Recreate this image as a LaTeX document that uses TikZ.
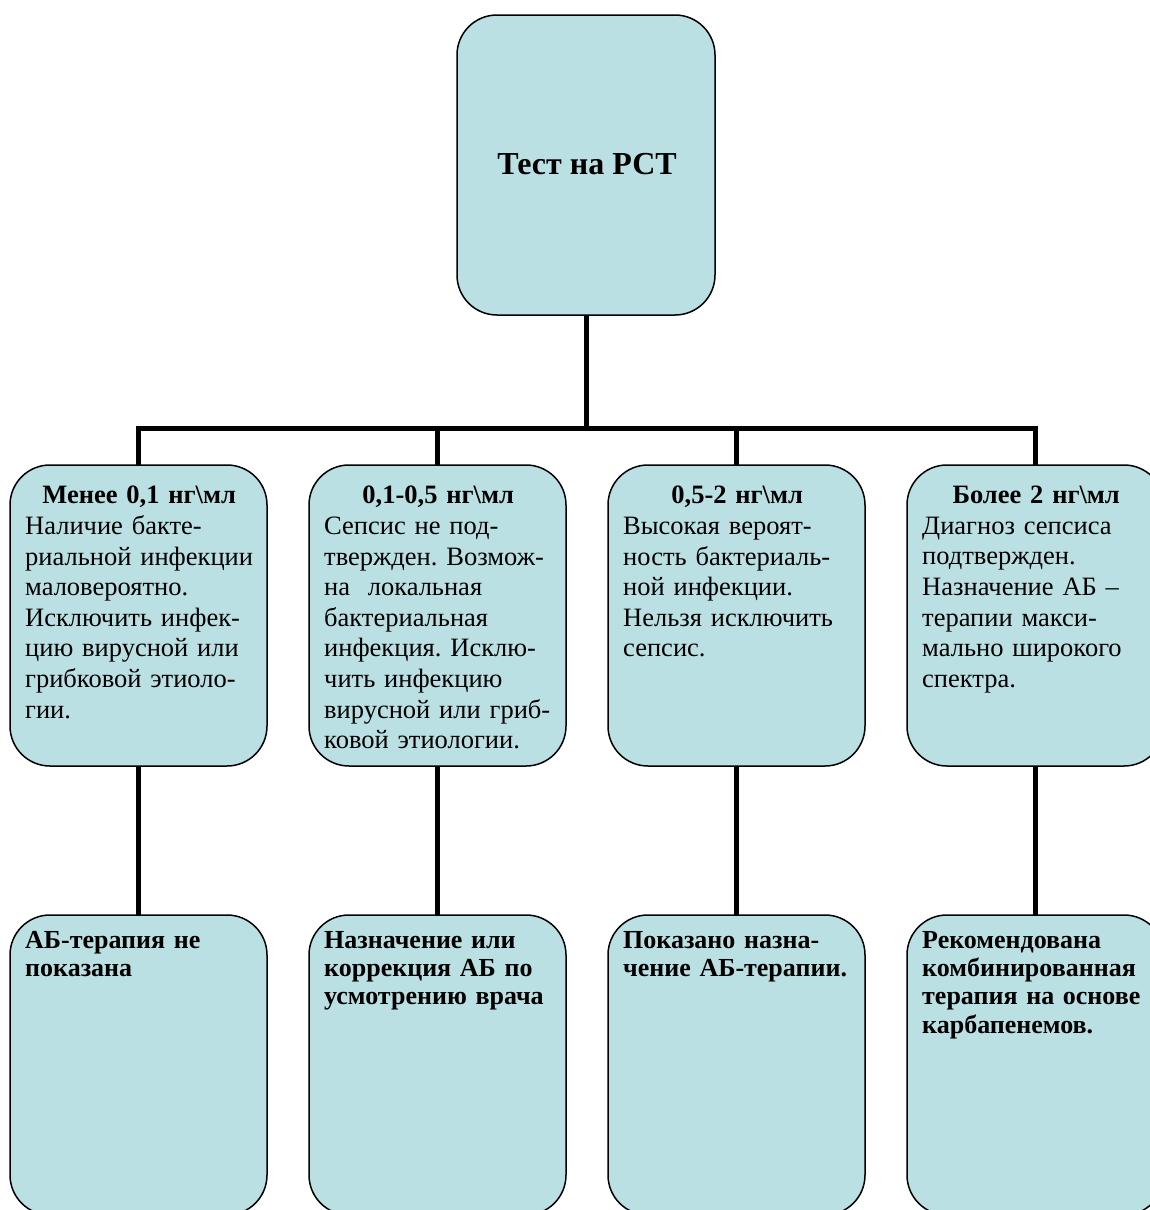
\documentclass[tikz,border=0pt]{standalone}
\usepackage{fontspec}
\setmainfont{Liberation Serif}
\definecolor{boxfill}{RGB}{187,224,227}
\begin{document}
\frenchspacing
\begin{tikzpicture}[x=1pt,y=-1pt,
  box/.style={draw=black, line width=1.5pt, fill=boxfill, rounded corners=40pt,
    inner sep=0pt, outer sep=0pt, minimum width=257pt},
  midbox/.style={box, minimum height=301pt},
  lowbox/.style={box, minimum height=300pt},
  conn/.style={line width=5pt, black},
  txt/.style={anchor=north west, text width=228pt, align=left, inner sep=0pt,
    font=\fontsize{26.5}{30.6}\selectfont},
  ltxt/.style={anchor=north west, text width=240pt, align=left, inner sep=0pt,
    font=\fontsize{26}{28.3}\selectfont\bfseries}]
\useasboundingbox (0,0) rectangle (1150,1210);
\clip (0,0) rectangle (1150,1210);
% top box
\node[box, minimum width=258pt, minimum height=300pt] (top) at (586,165) {};
\node[font=\fontsize{32}{36}\selectfont\bfseries, inner sep=0pt] (toptxt) at (587,164) {Тест на РСТ};
% middle boxes
\node[midbox] (m1) at (138.5,615.5) {};
\node[midbox] (m2) at (437.5,615.5) {};
\node[midbox] (m3) at (736.5,615.5) {};
\node[midbox] (m4) at (1035.5,615.5) {};
% lower boxes
\node[lowbox] (l1) at (138.5,1065) {};
\node[lowbox] (l2) at (437.5,1065) {};
\node[lowbox] (l3) at (736.5,1065) {};
\node[lowbox] (l4) at (1035.5,1065) {};
% connectors
\coordinate (bus) at (586,428);
\draw[conn] (top.south) -- (bus);
\draw[conn] (m1.north) -- (m1.north |- bus) -- (m4.north |- bus) -- (m4.north);
\draw[conn] (m2.north) -- (m2.north |- bus);
\draw[conn] (m3.north) -- (m3.north |- bus);
\draw[conn] (m1.south) -- (l1.north);
\draw[conn] (m2.south) -- (l2.north);
\draw[conn] (m3.south) -- (l3.north);
\draw[conn] (m4.south) -- (l4.north);
% middle texts
\node[txt] (t1) at (25,486) {\makebox[\linewidth]{\bfseries Менее 0,1 нг\textbackslash мл}\\
Наличие бакте-\\риальной инфекции\\маловероятно.\\Исключить инфек-\\цию вирусной или\\грибковой этиоло-\\гии.};
\node[txt] (t2) at (324,486) {\makebox[\linewidth]{\bfseries 0,1-0,5 нг\textbackslash мл}\\
Сепсис не под-\\твержден. Возмож-\\на\ \ локальная\\бактериальная\\инфекция. Исклю-\\чить инфекцию\\вирусной или гриб-\\ковой этиологии.};
\node[txt] (t3) at (623,486) {\makebox[\linewidth]{\bfseries 0,5-2 нг\textbackslash мл}\\
Высокая вероят-\\ность бактериаль-\\ной инфекции.\\Нельзя исключить\\сепсис.};
\node[txt] (t4) at (922,486) {\makebox[\linewidth]{\bfseries Более 2 нг\textbackslash мл}\\
Диагноз сепсиса\\подтвержден.\\Назначение АБ –\\терапии макси-\\мально широкого\\спектра.};
% lower texts
\node[ltxt] (u1) at (25,931) {АБ-терапия не\\показана};
\node[ltxt] (u2) at (324,931) {Назначение или\\коррекция АБ по\\усмотрению врача};
\node[ltxt] (u3) at (623,931) {Показано назна-\\чение АБ-терапии.};
\node[ltxt] (u4) at (922,931) {Рекомендована\\комбинированная\\терапия на основе\\карбапенемов.};
\end{tikzpicture}
\end{document}
